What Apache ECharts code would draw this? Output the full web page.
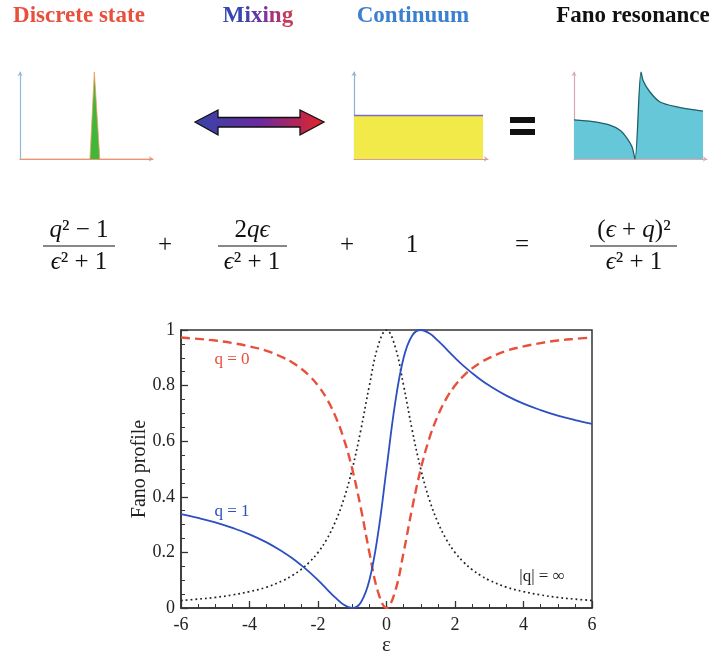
<!doctype html>
<html lang="en">
<head>
    <meta charset="utf-8">
    <title>fano-profile</title>
    <script src="https://cdn.jsdelivr.net/npm/echarts@6/dist/echarts.min.js"></script>
    <style>
        body { margin: 0; background: #fff; }
    </style>
</head>
<body>
<div id="fano" style="width: 712px;height:658px;"></div>

<script>

// main chart: detuning and the three profiles
var eps = [-6, -5.5, -5, -4.5, -4, -3.5, -3, -2.75, -2.5, -2.25, -2, -1.75, -1.5, -1.25, -1, -0.75, -0.5, -0.25,
    0, 0.25, 0.5, 0.75, 1, 1.25, 1.5, 1.75, 2, 2.25, 2.5, 2.75, 3, 3.5, 4, 4.5, 5, 5.5, 6];
var qInf = [0.027, 0.032, 0.038, 0.047, 0.059, 0.075, 0.1, 0.117, 0.138, 0.165, 0.2, 0.246, 0.308, 0.39, 0.5, 0.64, 0.8, 0.941,
    1, 0.941, 0.8, 0.64, 0.5, 0.39, 0.308, 0.246, 0.2, 0.165, 0.138, 0.117, 0.1, 0.075, 0.059, 0.047, 0.038, 0.032, 0.027];
var qZero = [0.973, 0.968, 0.962, 0.953, 0.941, 0.925, 0.9, 0.883, 0.862, 0.835, 0.8, 0.754, 0.692, 0.61, 0.5, 0.36, 0.2, 0.059,
    0, 0.059, 0.2, 0.36, 0.5, 0.61, 0.692, 0.754, 0.8, 0.835, 0.862, 0.883, 0.9, 0.925, 0.941, 0.953, 0.962, 0.968, 0.973];
var qOne = [0.338, 0.324, 0.308, 0.288, 0.265, 0.236, 0.2, 0.179, 0.155, 0.129, 0.1, 0.069, 0.038, 0.012, 0, 0.02, 0.1, 0.265,
    0.5, 0.735, 0.9, 0.98, 1, 0.988, 0.962, 0.931, 0.9, 0.871, 0.845, 0.821, 0.8, 0.764, 0.735, 0.712, 0.692, 0.676, 0.662];

// little sketches in the top row (0..1 in both directions)
var discreteX = [0, 0.526, 0.559, 0.6, 1];
var discreteY = [0, 0, 1, 0, 0];
var contX = [0, 0.963];
var contY = [0.5, 0.5];
var fanoX = [0, 0.143, 0.27, 0.346, 0.398, 0.436, 0.459, 0.504, 0.52, 0.571, 0.647, 0.774, 0.97];
var fanoY = [0.45, 0.43, 0.39, 0.33, 0.24, 0.14, 0, 1, 0.9, 0.77, 0.655, 0.6, 0.55];

// letters of "Mixing", shaded blue -> red
var mixLetters = ['M', 'i', 'x', 'i', 'n', 'g'];
var mixColors = ['#3646b0', '#4a40ac', '#6038a6', '#82349c', '#a83478', '#c83a5c'];

var serif = 'Liberation Serif, DejaVu Serif, serif';

function zip(xs, ys) {
    return xs.map(function (x, i) { return [x, ys[i]]; });
}

function miniAxis(grid, color) {
    return {
        type: 'value', gridIndex: grid, min: 0, max: 1,
        axisLine: { show: true, onZero: false, lineStyle: { color: color, width: 1.2 }, symbol: ['none', 'arrow'], symbolSize: [4, 4] },
        axisTick: { show: false }, axisLabel: { show: false }, splitLine: { show: false }
    };
}

var myChart = echarts.init(document.getElementById('fano'));

var richMath = {
    i: { fontFamily: serif, fontStyle: 'italic', fontSize: 25, fill: '#111' },
    n: { fontFamily: serif, fontSize: 25, fill: '#111' }
};

function mathText(x, y, text) {
    return {
        type: 'text', x: x, y: y,
        style: { text: text, rich: richMath, align: 'center', verticalAlign: 'middle', fontFamily: serif, fontSize: 25, fill: '#111' }
    };
}

function bar(x1, x2, y) {
    return { type: 'line', shape: { x1: x1, y1: y, x2: x2, y2: y }, style: { stroke: '#111', lineWidth: 1.1 } };
}

function title(x, text, fill) {
    return {
        type: 'text', x: x, y: 16,
        style: { text: text, fill: fill, align: 'center', verticalAlign: 'middle', fontFamily: serif, fontWeight: 'bold', fontSize: 23 }
    };
}

function note(x, y, text, color) {
    return {
        type: 'text', x: x, y: y, z: 10,
        style: { text: text, fill: color, align: 'center', verticalAlign: 'middle', fontFamily: serif, fontSize: 17 }
    };
}

var mixRich = {};
var mixText = '';
mixLetters.forEach(function (ch, i) {
    mixRich['m' + i] = { fontFamily: serif, fontWeight: 'bold', fontSize: 23, fill: mixColors[i] };
    mixText += '{m' + i + '|' + ch + '}';
});

var option = {
    animation: false,
    backgroundColor: '#fff',
    grid: [
        { left: 181, top: 330, width: 411, height: 278, show: true, borderColor: '#333', borderWidth: 1.5, backgroundColor: 'transparent' },
        { left: 20, top: 72, width: 133, height: 87 },
        { left: 354, top: 72, width: 134, height: 87 },
        { left: 574, top: 72, width: 133, height: 87 }
    ],
    xAxis: [
        {
            type: 'value', gridIndex: 0, min: -6, max: 6, interval: 2,
            name: 'ε', nameLocation: 'middle', nameGap: 27,
            nameTextStyle: { fontFamily: serif, fontSize: 21, color: '#222' },
            axisLine: { onZero: false, lineStyle: { color: '#333', width: 1.5 } },
            axisTick: { inside: true, length: 7, lineStyle: { color: '#333', width: 1.3 } },
            minorTick: { show: true, splitNumber: 4, length: 4, lineStyle: { color: '#333', width: 1 } },
            axisLabel: { fontFamily: serif, fontSize: 18, color: '#222', margin: 8 },
            splitLine: { show: false }
        },
        miniAxis(1, '#e9907e'),
        miniAxis(2, '#d99aa0'),
        miniAxis(3, '#e0a8a8')
    ],
    yAxis: [
        {
            type: 'value', gridIndex: 0, min: 0, max: 1, interval: 0.2,
            axisLine: { onZero: false, lineStyle: { color: '#333', width: 1.5 } },
            axisTick: { inside: true, length: 7, lineStyle: { color: '#333', width: 1.3 } },
            minorTick: { show: true, splitNumber: 4, length: 4, lineStyle: { color: '#333', width: 1 } },
            axisLabel: { fontFamily: serif, fontSize: 18, color: '#222', margin: 6 },
            splitLine: { show: false }
        },
        miniAxis(1, '#8fbad8'),
        miniAxis(2, '#8fb0d0'),
        miniAxis(3, '#d8a8b0')
    ],
    series: [
        {
            name: '|q| = ∞', type: 'line', data: zip(eps, qInf), smooth: 0.4, showSymbol: false,
            lineStyle: { color: '#222', width: 1.7, type: [1.8, 3] }
        },
        {
            name: 'q = 0', type: 'line', data: zip(eps, qZero), smooth: 0.4, showSymbol: false,
            lineStyle: { color: '#e8503c', width: 2.4, type: [9, 5] }
        },
        {
            name: 'q = 1', type: 'line', data: zip(eps, qOne), smooth: 0.4, showSymbol: false,
            lineStyle: { color: '#2c4fc2', width: 1.8 }
        },
        {
            name: 'discrete', type: 'line', xAxisIndex: 1, yAxisIndex: 1, data: zip(discreteX, discreteY),
            showSymbol: false, lineStyle: { color: '#f09a60', width: 0.8 }, areaStyle: { color: '#3fb83a', opacity: 1 }
        },
        {
            name: 'continuum', type: 'line', xAxisIndex: 2, yAxisIndex: 2, data: zip(contX, contY),
            showSymbol: false, lineStyle: { color: '#7c6cc0', width: 1.5 }, areaStyle: { color: '#f1ea48', opacity: 1 }
        },
        {
            name: 'fano', type: 'line', xAxisIndex: 3, yAxisIndex: 3, data: zip(fanoX, fanoY),
            smooth: 0.3, showSymbol: false, lineStyle: { color: '#1f5f6a', width: 1.3 }, areaStyle: { color: '#66c7d8', opacity: 1 }
        }
    ],
    graphic: [
        title(79, 'Discrete state', '#e8503c'),
        {
            type: 'text', x: 258, y: 16,
            style: { text: mixText, rich: mixRich, align: 'center', verticalAlign: 'middle', fontFamily: serif, fontWeight: 'bold', fontSize: 23 }
        },
        title(413, 'Continuum', '#3b7fd0'),
        title(633, 'Fano resonance', '#111'),
        {
            type: 'polygon',
            shape: {
                points: [[195, 122], [218, 110], [218, 117.5], [300, 117.5], [300, 110], [324, 122],
                    [300, 135], [300, 127], [218, 127], [218, 135]]
            },
            style: {
                stroke: '#111', lineWidth: 1.3,
                fill: new echarts.graphic.LinearGradient(0, 0, 1, 0, [
                    { offset: 0, color: '#3545a8' }, { offset: 0.5, color: '#6a2aa0' }, { offset: 1, color: '#e82424' }
                ])
            }
        },
        { type: 'rect', shape: { x: 510, y: 117, width: 25, height: 6 }, style: { fill: '#111' } },
        { type: 'rect', shape: { x: 510, y: 129, width: 25, height: 6 }, style: { fill: '#111' } },

        mathText(79, 230, '{i|q}{n|² − 1}'),
        bar(43, 115, 246),
        mathText(79, 262, '{i|ϵ}{n|² + 1}'),
        mathText(165, 245, '{n|+}'),
        mathText(252, 230, '{n|2}{i|qϵ}'),
        bar(218, 287, 246),
        mathText(252, 262, '{i|ϵ}{n|² + 1}'),
        mathText(347, 245, '{n|+}'),
        mathText(412, 245, '{n|1}'),
        mathText(522, 245, '{n|=}'),
        mathText(634, 230, '{n|(}{i|ϵ}{n| + }{i|q}{n|)²}'),
        bar(590, 677, 246),
        mathText(634, 262, '{i|ϵ}{n|² + 1}'),

        {
            type: 'text', x: 140, y: 469, rotation: Math.PI / 2,
            style: { text: 'Fano profile', align: 'center', verticalAlign: 'middle', fontFamily: serif, fontSize: 20, fill: '#222' }
        },
        note(232, 360, 'q = 0', '#e8503c'),
        note(232, 512, 'q = 1', '#2c4fc2'),
        note(542, 577, '|q| = ∞', '#222')
    ]
};

myChart.setOption(option);

</script>

</body>
</html>
